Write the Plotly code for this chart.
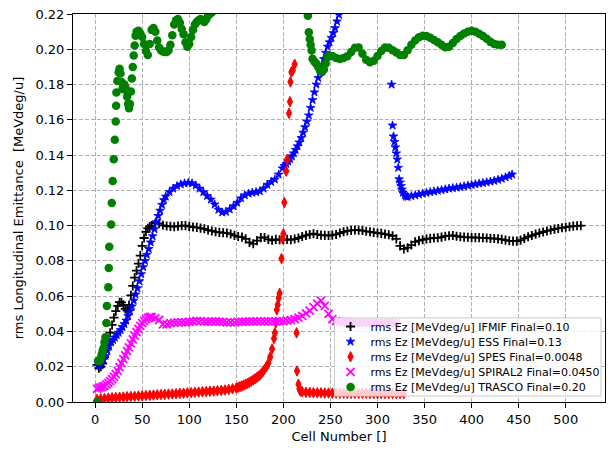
import plotly.graph_objects as go

# ---------------- data ----------------
ifmif_cell = list(range(2, 61, 2)) + list(range(64, 517, 4))
ifmif_ez = [0.0210, 0.0192, 0.0200, 0.0218, 0.0255, 0.0305, 0.0350, 0.0393, 0.0437, 0.0478,
            0.0515, 0.0545, 0.0566, 0.0565, 0.0551, 0.0528, 0.0518, 0.0550, 0.0605, 0.0658,
            0.0705, 0.0745, 0.0785, 0.0830, 0.0885, 0.0930, 0.0965, 0.0985, 0.0995, 0.1000,
            0.1015, 0.1012, 0.1002, 0.0998, 0.0996, 0.0994, 0.0997, 0.1000, 0.1000, 0.0996,
            0.0992, 0.0990, 0.0986, 0.0982, 0.0975, 0.0970, 0.0965, 0.0962, 0.0960, 0.0958,
            0.0953, 0.0945, 0.0938, 0.0935, 0.0925, 0.0905, 0.0897, 0.0915, 0.0932, 0.0933,
            0.0922, 0.0917, 0.0922, 0.0920, 0.0920, 0.0922, 0.0920, 0.0924, 0.0930, 0.0938,
            0.0945, 0.0950, 0.0954, 0.0950, 0.0946, 0.0945, 0.0944, 0.0946, 0.0950, 0.0958,
            0.0965, 0.0970, 0.0973, 0.0975, 0.0974, 0.0972, 0.0968, 0.0965, 0.0962, 0.0958,
            0.0956, 0.0952, 0.0948, 0.0942, 0.0925, 0.0885, 0.0868, 0.0875, 0.0890, 0.0908,
            0.0915, 0.0920, 0.0925, 0.0928, 0.0930, 0.0931, 0.0935, 0.0940, 0.0943, 0.0944,
            0.0940, 0.0937, 0.0935, 0.0934, 0.0933, 0.0932, 0.0932, 0.0931, 0.0930, 0.0928,
            0.0927, 0.0925, 0.0922, 0.0918, 0.0914, 0.0912, 0.0912, 0.0918, 0.0928, 0.0937,
            0.0944, 0.0952, 0.0958, 0.0964, 0.0970, 0.0975, 0.0980, 0.0984, 0.0988, 0.0991,
            0.0994, 0.0997, 0.0999, 0.1000]

ess_cell = (list(range(3, 76, 2)) + list(range(79, 196, 4)) + list(range(199, 260, 2))
            + [315, 316, 317, 318, 319, 320, 321, 322, 323, 324, 325, 326, 327, 329, 330]
            + list(range(332, 441, 4)) + [443])
ess_ez = [0.0205, 0.0208, 0.0222, 0.0240, 0.0262, 0.0290, 0.0320, 0.0338, 0.0352, 0.0365,
          0.0380, 0.0393, 0.0408, 0.0425, 0.0442, 0.0462, 0.0488, 0.0515, 0.0542, 0.0575,
          0.0610, 0.0645, 0.0685, 0.0725, 0.0765, 0.0800, 0.0835, 0.0868, 0.0905, 0.0940,
          0.0980, 0.1020, 0.1055, 0.1085, 0.1118, 0.1145, 0.1165,
          0.1190, 0.1210, 0.1224, 0.1234, 0.1240, 0.1243, 0.1240, 0.1228, 0.1210, 0.1190,
          0.1168, 0.1148, 0.1120, 0.1090, 0.1075, 0.1078, 0.1092, 0.1110, 0.1130, 0.1155,
          0.1172, 0.1182, 0.1187, 0.1190, 0.1195, 0.1210, 0.1232, 0.1248, 0.1262, 0.1290,
          0.1325, 0.1338, 0.1350, 0.1364, 0.1378, 0.1393, 0.1410, 0.1430, 0.1450, 0.1472,
          0.1497, 0.1527, 0.1558, 0.1590, 0.1625, 0.1668, 0.1712, 0.1756, 0.1800, 0.1838,
          0.1875, 0.1910, 0.1945, 0.1980, 0.2015, 0.2040, 0.2065, 0.2092, 0.2120, 0.2158,
          0.2195,
          0.1800, 0.1568, 0.1506, 0.1475, 0.1444, 0.1410, 0.1375, 0.1328, 0.1263, 0.1245,
          0.1225, 0.1205, 0.1187, 0.1175, 0.1165,
          0.1163, 0.1168, 0.1172, 0.1177, 0.1182, 0.1186, 0.1190, 0.1194, 0.1198, 0.1202,
          0.1206, 0.1210, 0.1213, 0.1216, 0.1219, 0.1223, 0.1227, 0.1231, 0.1235, 0.1239,
          0.1242, 0.1246, 0.1250, 0.1254, 0.1260, 0.1266, 0.1274, 0.1282, 0.1290]

spes_cell = (list(range(2, 151, 4)) + list(range(152, 191, 2))
             + [191, 192, 193, 194, 195, 196, 198, 199, 200, 201, 203, 204, 206, 207, 207.5, 208.5, 210, 212]
             + [214, 214.5, 216, 217, 218] + list(range(220, 329, 4)))
spes_ez = [0.0015, 0.0018, 0.0020, 0.0022, 0.0024, 0.0025, 0.0027, 0.0028, 0.0030, 0.0031,
           0.0032, 0.0034, 0.0035, 0.0037, 0.0038, 0.0039, 0.0041, 0.0042, 0.0043, 0.0045,
           0.0046, 0.0047, 0.0049, 0.0050, 0.0052, 0.0053, 0.0055, 0.0056, 0.0058, 0.0059,
           0.0061, 0.0062, 0.0064, 0.0066, 0.0068, 0.0071, 0.0075, 0.0079,
           0.0083, 0.0087, 0.0091, 0.0096, 0.0101, 0.0106, 0.0112, 0.0118, 0.0125, 0.0132,
           0.0140, 0.0148, 0.0158, 0.0170, 0.0185, 0.0200, 0.0220, 0.0255, 0.0300, 0.0360,
           0.0392, 0.0450, 0.0523, 0.0551, 0.0590, 0.0616, 0.0813, 0.0925, 0.0954, 0.1131,
           0.1309, 0.1375, 0.1637, 0.1703, 0.1815, 0.1871, 0.1880, 0.1915,
           0.0392, 0.0176, 0.0101, 0.0075, 0.0062,
           0.0058, 0.0055, 0.0054, 0.0053, 0.0052, 0.0052, 0.0051, 0.0051, 0.0050, 0.0050,
           0.0050, 0.0050, 0.0049, 0.0049, 0.0049, 0.0049, 0.0049, 0.0049, 0.0048, 0.0048,
           0.0048, 0.0048, 0.0048, 0.0048, 0.0048, 0.0048, 0.0048, 0.0048]

spiral2_cell = list(range(2, 61, 2)) + list(range(64, 321, 4))
spiral2_ez = [0.0075, 0.0080, 0.0083, 0.0087, 0.0092, 0.0100, 0.0108, 0.0118, 0.0130, 0.0143,
              0.0158, 0.0177, 0.0198, 0.0220, 0.0243, 0.0265, 0.0288, 0.0310, 0.0333, 0.0355,
              0.0376, 0.0396, 0.0415, 0.0432, 0.0447, 0.0460, 0.0470, 0.0477, 0.0482, 0.0482,
              0.0476, 0.0465, 0.0440, 0.0440, 0.0447, 0.0450, 0.0451, 0.0452, 0.0452, 0.0455,
              0.0457, 0.0460, 0.0458, 0.0456, 0.0456, 0.0457, 0.0457, 0.0456, 0.0454, 0.0452,
              0.0451, 0.0452, 0.0454, 0.0455, 0.0456, 0.0457, 0.0457, 0.0457, 0.0457, 0.0457,
              0.0457, 0.0457, 0.0457, 0.0458, 0.0459, 0.0461, 0.0464, 0.0470, 0.0478, 0.0488,
              0.0502, 0.0518, 0.0538, 0.0558, 0.0575, 0.0545, 0.0500, 0.0470, 0.0458, 0.0454,
              0.0452, 0.0451, 0.0451, 0.0450, 0.0450, 0.0450, 0.0450, 0.0450, 0.0450, 0.0450,
              0.0450, 0.0450, 0.0450, 0.0450, 0.0450]

trasco_cell = ([2, 3, 5, 6, 7, 8, 9, 10, 11, 12, 12.5, 14, 14.5, 15, 17, 17.7, 18.7, 19.8, 20.9, 21.9, 22.3, 22.6, 23.6]
               + [25, 26, 27, 28, 29, 30, 31, 32, 33, 34, 35, 36, 37, 38, 39, 40, 41, 42, 43, 44, 46]
               + list(range(48, 127, 2))
               + [226, 227, 228, 229, 230, 231, 233, 235, 237, 239, 241, 243, 245, 247]
               + list(range(248, 433, 4)))
trasco_ez = [0.0, 0.0232, 0.0233, 0.0250, 0.0270, 0.0290, 0.0307, 0.0340, 0.0367, 0.0448,
             0.0545, 0.0650, 0.0760, 0.0880, 0.1006, 0.1128, 0.1253, 0.1377, 0.1487, 0.1590,
             0.1680, 0.1755, 0.1820,
             0.1870, 0.1890, 0.1862, 0.1815, 0.1775, 0.1790, 0.1800, 0.1787, 0.1768, 0.1731,
             0.1690, 0.1665, 0.1690, 0.1760, 0.1834, 0.1900, 0.1965, 0.2021, 0.2077, 0.2100,
             0.2105,
             0.2090, 0.2070, 0.2030, 0.1990, 0.1968, 0.2030, 0.2110, 0.2120, 0.2100, 0.2050,
             0.2010, 0.1995, 0.1988, 0.1984, 0.1984, 0.1995, 0.2025, 0.2080, 0.2140, 0.2165,
             0.2171, 0.2150, 0.2115, 0.2085, 0.2040, 0.2015, 0.2030, 0.2070, 0.2110, 0.2140,
             0.2155, 0.2165, 0.2171, 0.2165, 0.2155, 0.2170, 0.2190, 0.2200, 0.2210, 0.2220,
             0.2190, 0.2096, 0.2058, 0.2025, 0.1993, 0.1946, 0.1930, 0.1918, 0.1900, 0.1878,
             0.1871, 0.1885, 0.1920, 0.1955,
             0.1965, 0.1962, 0.1950, 0.1945, 0.1950, 0.1960, 0.1985, 0.2008, 0.2010, 0.1975,
             0.1940, 0.1927, 0.1935, 0.1962, 0.1990, 0.2010, 0.2008, 0.1995, 0.1982, 0.1968,
             0.1968, 0.1995, 0.2025, 0.2050, 0.2068, 0.2077, 0.2075, 0.2065, 0.2052, 0.2040,
             0.2025, 0.2012, 0.2015, 0.2035, 0.2058, 0.2075, 0.2090, 0.2100, 0.2105, 0.2100,
             0.2088, 0.2075, 0.2060, 0.2042, 0.2030, 0.2025, 0.2025]

names = ["rms Ez [MeVdeg/u] IFMIF Final=0.10",
         "rms Ez [MeVdeg/u] ESS Final=0.13",
         "rms Ez [MeVdeg/u] SPES Final=0.0048",
         "rms Ez [MeVdeg/u] SPIRAL2 Final=0.0450",
         "rms Ez [MeVdeg/u] TRASCO Final=0.20"]

x_ticks = list(range(0, 501, 50))
y_ticks = [0.00, 0.02, 0.04, 0.06, 0.08, 0.10, 0.12, 0.14, 0.16, 0.18, 0.20, 0.22]

series = [(ifmif_cell, ifmif_ez), (ess_cell, ess_ez), (spes_cell, spes_ez),
          (spiral2_cell, spiral2_ez), (trasco_cell, trasco_ez)]
for cx, cy in series:
    assert len(cx) == len(cy), (len(cx), len(cy))

styles = [
    dict(symbol="cross-thin", size=6.5, color="black", line=dict(width=1.8, color="black")),
    dict(symbol="star", size=6.5, color="#0000ff", line=dict(width=0.8, color="#0000ff")),
    dict(symbol="diamond-tall", size=7.5, color="#ff0000", line=dict(width=1, color="#ff0000")),
    dict(symbol="x-thin", size=8, color="#ff00ff", line=dict(width=1.8, color="#ff00ff")),
    dict(symbol="circle", size=8.5, color="#008000", line=dict(width=0)),
]

# one single-entry legend per series so entries can sit 15 px apart like the reference
legend_ids = ["legend", "legend2", "legend3", "legend4", "legend5"]
legend_y = [0.1946, 0.1556, 0.1166, 0.0776, 0.0386]

fig = go.Figure()
for (cx, cy), nm, st, lg in zip(series, names, styles, legend_ids):
    fig.add_trace(go.Scatter(x=cx, y=cy, mode="markers", name=nm, marker=st, legend=lg))

font = "DejaVu Sans"
legend_common = dict(x=0.4841, xanchor="left", yanchor="middle", bgcolor="rgba(0,0,0,0)",
                     borderwidth=0, font=dict(family=font, size=11, color="black"))
legend_layout = {lg: dict(legend_common, y=ly) for lg, ly in zip(legend_ids, legend_y)}

fig.update_layout(
    width=613, height=449,
    margin=dict(l=73, r=7, t=11, b=46),
    paper_bgcolor="white", plot_bgcolor="white",
    font=dict(family=font, size=13, color="black"),
    showlegend=True,
    shapes=[dict(type="rect", xref="paper", yref="paper", x0=0.4916, x1=0.9925, y0=0.0153, y1=0.2168,
                 fillcolor="rgba(255,255,255,0.8)", line=dict(color="#cccccc", width=1), layer="above")],
    **legend_layout,
)
fig.update_xaxes(
    range=[-23.5, 541.7], tickvals=x_ticks, ticks="outside", ticklen=5, tickcolor="black",
    showline=True, linecolor="black", linewidth=1, mirror=True,
    showgrid=True, gridcolor="#b0b0b0", griddash="4px,2px", gridwidth=1, zeroline=False,
    title=dict(text="Cell Number []", standoff=6, font=dict(size=13)),
)
fig.update_yaxes(
    range=[0, 0.22], tickvals=y_ticks, tickformat=".2f", ticks="outside", ticklen=5,
    tickcolor="black", showline=True, linecolor="black", linewidth=1, mirror=True,
    showgrid=True, gridcolor="#b0b0b0", griddash="4px,2px", gridwidth=1, zeroline=False,
    title=dict(text="rms Longitudinal Emittance \u00a0[MeVdeg/u]", standoff=8, font=dict(size=13)),
)

fig.write_html("out.html", config={"displayModeBar": False},
               post_script="document.body.style.margin='0';")
